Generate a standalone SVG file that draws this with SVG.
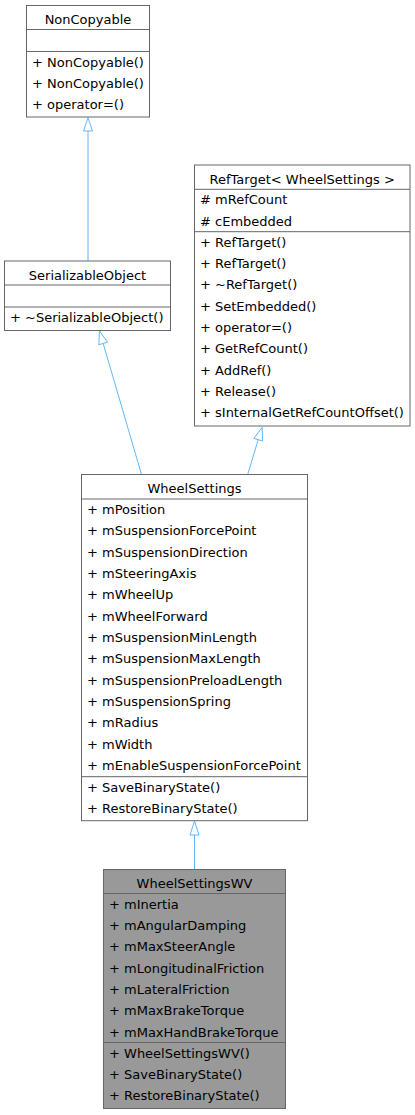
<svg xmlns="http://www.w3.org/2000/svg" width="415" height="1115" viewBox="0 0 415 1115">
<style>
text{font-family:"DejaVu Sans",Verdana,sans-serif;font-size:13px;fill:#000}
.t{text-anchor:middle}
.box{fill:#fff;stroke:#666;stroke-width:1}
.cur{fill:#999;stroke:#666;stroke-width:1}
.sep{stroke:#666;stroke-width:1}
.e{stroke:#63b8ff;stroke-width:1;fill:none}
.ah{stroke:#63b8ff;stroke-width:1;fill:#fff}
</style>
<rect width="415" height="1115" fill="#fff"/>
<g id="edges">
<line class="e" x1="88" y1="261" x2="88" y2="131"/>
<polygon class="ah" points="88,117.5 83.5,131 92.5,131"/>
<line class="e" x1="141.5" y1="474.5" x2="103.2" y2="343.5"/>
<polygon class="ah" points="99.5,331 107.5,342.2 98.8,344.7"/>
<line class="e" x1="247.7" y1="474.5" x2="258.2" y2="439.7"/>
<polygon class="ah" points="262.2,427.3 262.5,441 253.9,438.4"/>
<line class="e" x1="194.5" y1="869.5" x2="194.5" y2="835"/>
<polygon class="ah" points="194.5,821 190,835 199,835"/>
</g>
<g id="NonCopyable">
<rect class="box" x="26.5" y="5.5" width="123" height="111.5"/>
<line class="sep" x1="26.5" y1="29.5" x2="149.5" y2="29.5"/>
<line class="sep" x1="26.5" y1="51.5" x2="149.5" y2="51.5"/>
<text class="t" x="88" y="24">NonCopyable</text>
<text x="32" y="66.5">+ NonCopyable()</text>
<text x="32" y="87.8">+ NonCopyable()</text>
<text x="32" y="109.2">+ operator=()</text>
</g>
<g id="SerializableObject">
<rect class="box" x="4.5" y="261" width="166" height="69.5"/>
<line class="sep" x1="4.5" y1="285" x2="170.5" y2="285"/>
<line class="sep" x1="4.5" y1="307" x2="170.5" y2="307"/>
<text class="t" x="87.5" y="279.5">SerializableObject</text>
<text x="10" y="322">+ ~SerializableObject()</text>
</g>
<g id="RefTarget">
<rect class="box" x="194.5" y="165" width="215.5" height="261"/>
<line class="sep" x1="194.5" y1="189.3" x2="410" y2="189.3"/>
<line class="sep" x1="194.5" y1="231.7" x2="410" y2="231.7"/>
<text class="t" x="302.2" y="183.5">RefTarget&lt; WheelSettings &gt;</text>
<text x="200" y="204.3"># mRefCount</text>
<text x="200" y="225.6"># cEmbedded</text>
<text x="200" y="246.7">+ RefTarget()</text>
<text x="200" y="268">+ RefTarget()</text>
<text x="200" y="289.3">+ ~RefTarget()</text>
<text x="200" y="310.7">+ SetEmbedded()</text>
<text x="200" y="332">+ operator=()</text>
<text x="200" y="353.3">+ GetRefCount()</text>
<text x="200" y="374.7">+ AddRef()</text>
<text x="200" y="396">+ Release()</text>
<text x="200" y="417.3">+ sInternalGetRefCountOffset()</text>
</g>
<g id="WheelSettings">
<rect class="box" x="81.5" y="474.5" width="226" height="346.2"/>
<line class="sep" x1="81.5" y1="499" x2="307.5" y2="499"/>
<line class="sep" x1="81.5" y1="776.7" x2="307.5" y2="776.7"/>
<text class="t" x="194.5" y="493.3">WheelSettings</text>
<text x="87" y="514">+ mPosition</text>
<text x="87" y="535.3">+ mSuspensionForcePoint</text>
<text x="87" y="556.7">+ mSuspensionDirection</text>
<text x="87" y="578">+ mSteeringAxis</text>
<text x="87" y="599.3">+ mWheelUp</text>
<text x="87" y="620.7">+ mWheelForward</text>
<text x="87" y="642">+ mSuspensionMinLength</text>
<text x="87" y="663.3">+ mSuspensionMaxLength</text>
<text x="87" y="684.7">+ mSuspensionPreloadLength</text>
<text x="87" y="706">+ mSuspensionSpring</text>
<text x="87" y="727.3">+ mRadius</text>
<text x="87" y="748.7">+ mWidth</text>
<text x="87" y="770">+ mEnableSuspensionForcePoint</text>
<text x="87" y="791.5">+ SaveBinaryState()</text>
<text x="87" y="812.8">+ RestoreBinaryState()</text>
</g>
<g id="WheelSettingsWV">
<rect class="cur" x="103.5" y="869.5" width="182" height="239"/>
<line class="sep" x1="103.5" y1="893.5" x2="285.5" y2="893.5"/>
<line class="sep" x1="103.5" y1="1042.5" x2="285.5" y2="1042.5"/>
<text class="t" x="194.5" y="888">WheelSettingsWV</text>
<text x="109" y="908.5">+ mInertia</text>
<text x="109" y="929.8">+ mAngularDamping</text>
<text x="109" y="951.2">+ mMaxSteerAngle</text>
<text x="109" y="972.5">+ mLongitudinalFriction</text>
<text x="109" y="993.8">+ mLateralFriction</text>
<text x="109" y="1015.2">+ mMaxBrakeTorque</text>
<text x="109" y="1036.5">+ mMaxHandBrakeTorque</text>
<text x="109" y="1057.5">+ WheelSettingsWV()</text>
<text x="109" y="1078.8">+ SaveBinaryState()</text>
<text x="109" y="1100.2">+ RestoreBinaryState()</text>
</g>
</svg>
